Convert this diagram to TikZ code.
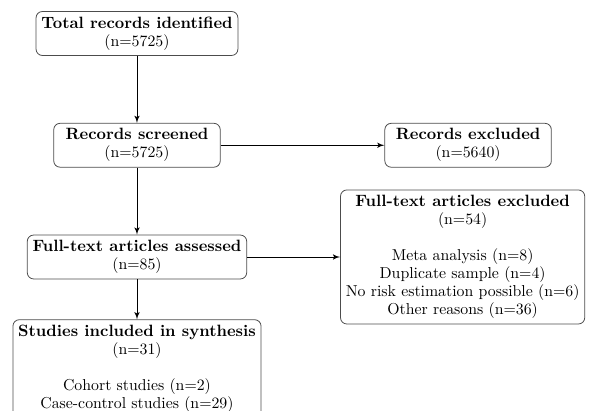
\documentclass[tikz,border=0pt]{standalone}
\usepackage{amsmath}
\usepackage{tikz}
\usetikzlibrary{shapes,arrows,positioning}
\usepackage{color}
\newcommand{\boxhead}[1]{{\fontsize{10.35}{11.4}\selectfont\bfseries #1}}
\tikzstyle{stage} = [draw=black!70, rectangle, rounded corners=4pt, align=center, line width=0.5pt, minimum width=3.7cm, font=\fontsize{10}{11.4}\selectfont]
\tikzstyle{flow} = [draw, ->, line width=0.6pt]

\begin{document}
\begin{tikzpicture}[auto, >=latex']
    \useasboundingbox (0,0) rectangle (13.2,-9.133);
    % Drawing blocks
    \node [stage] (total) at (3.044,-0.744) {\boxhead{Total records identified}\\(n=5725)};
    \node [stage, below=1.49cm of total] (screened) {\boxhead{Records screened}\\(n=5725)};
    \node [stage, right=3.64cm of screened] (excl) {\boxhead{Records excluded}\\(n=5640)};
    \node [stage, below=1.49cm of screened] (assessed) {\boxhead{Full-text articles assessed}\\(n=85)};
    \node [stage, right=2.067cm of assessed] (ftexcl) {\boxhead{Full-text articles excluded}\\(n=54)\\ \\Meta analysis (n=8)\\Duplicate sample (n=4)\\No risk estimation possible (n=6)\\Other reasons (n=36)};
    \node [stage, below=0.889cm of assessed] (incl) {\boxhead{Studies included in synthesis}\\(n=31)\\ \\Cohort studies (n=2)\\Case-control studies (n=29)};

    % Connectors
    \draw [flow] (total) -- (screened);
    \draw [flow] (screened) -- (excl);
    \draw [flow] (screened) -- (assessed);
    \draw [flow] (assessed) -- (ftexcl);
    \draw [flow] (assessed) -- (incl);
\end{tikzpicture}
\end{document}
